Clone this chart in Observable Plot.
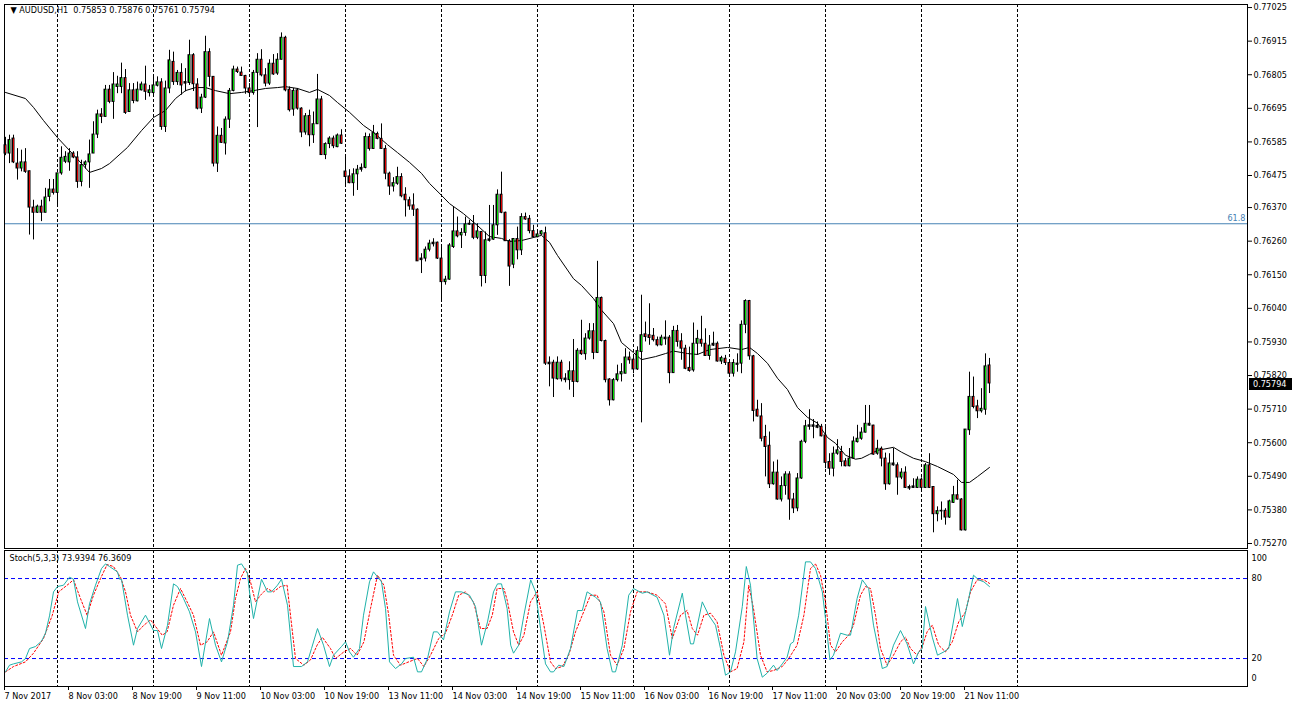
<!DOCTYPE html>
<html>
<head>
<meta charset="utf-8">
<script src="https://cdn.jsdelivr.net/npm/d3@7"></script>
<script src="https://cdn.jsdelivr.net/npm/@observablehq/plot@0.6"></script>
<style>
html,body{margin:0;padding:0;background:#fff;}
#wrap{position:relative;width:1292px;height:708px;overflow:hidden;background:#fff;}
#main{position:absolute;left:0;top:0;}
#stoch{position:absolute;left:0;top:549px;}
svg{display:block}
</style>
</head>
<body>
<div id="wrap"><div id="main"></div><div id="stoch"></div></div>
<script>
const symbol = "AUDUSD,H1";
const open = [
.76574,.76547,.76596,.76514,.76498,.76518,.76489,.76370,.76353,.76373,
.76353,.76405,.76429,.76418,.76482,.76520,.76518,.76547,.76534,.76454,
.76509,.76518,.76547,.76609,.76675,.76667,.76756,.76716,.76765,.76765,
.76794,.76683,.76754,.76718,.76754,.76773,.76745,.76745,.76769,.76780,
.76634,.76760,.76847,.76781,.76811,.76776,.76778,.76869,.76773,.76694,
.76730,.76879,.76798,.76514,.76605,.76580,.76658,.76752,.76822,.76812,
.76801,.76760,.76745,.76811,.76854,.76803,.76776,.76841,.76809,.76854,
.76926,.76756,.76691,.76754,.76694,.76616,.76670,.76607,.76643,.76724,
.76542,.76578,.76596,.76568,.76606,.76488,.76472,.76450,.76479,.76494,
.76500,.76601,.76562,.76611,.76595,.76562,.76481,.76439,.76448,.76470,
.76412,.76394,.76377,.76363,.76203,.76203,.76232,.76250,.76255,.76203,
.76126,.76134,.76241,.76292,.76279,.76287,.76314,.76315,.76271,.76290,
.76146,.76261,.76265,.76312,.76412,.76353,.76260,.76183,.76267,.76230,
.76339,.76333,.76293,.76273,.76282,.76286,.75862,.75862,.75808,.75862,
.75810,.75805,.75834,.75799,.75901,.75890,.75941,.75965,.75894,.76074,
.75933,.75807,.75739,.75805,.75824,.75826,.75879,.75872,.75840,.75897,
.75955,.75952,.75950,.75936,.75919,.75944,.75944,.75828,.75966,.75932,
.75908,.75845,.75837,.75924,.75937,.75924,.75884,.75918,.75924,.75866,
.75875,.75861,.75826,.75859,.75859,.75986,.76064,.75883,.75708,.75686,
.75619,.75590,.75464,.75502,.75414,.75458,.75496,.75414,.75385,.75483,
.75603,.75652,.75657,.75655,.75652,.75624,.75537,.75515,.75564,.75570,
.75539,.75523,.75548,.75602,.75613,.75633,.75662,.75656,.75564,.75580,
.75548,.75464,.75532,.75526,.75486,.75502,.75450,.75452,.75452,.75479,
.75452,.75526,.75455,.75366,.75377,.75377,.75355,.75403,.75428,.75414,
.75313,.75641,.75750,.75719,.75703,.75708,.75853];
const high = [
.76600,.76607,.76607,.76563,.76558,.76563,.76489,.76394,.76378,.76394,
.76433,.76462,.76462,.76482,.76569,.76553,.76563,.76553,.76553,.76525,
.76523,.76591,.76651,.76689,.76694,.76770,.76770,.76812,.76800,.76843,
.76822,.76776,.76776,.76781,.76781,.76833,.76770,.76798,.76798,.76792,
.76784,.76885,.76879,.76819,.76841,.76825,.76918,.76874,.76792,.76741,
.76931,.76890,.76798,.76634,.76629,.76667,.76760,.76833,.76830,.76830,
.76803,.76776,.76819,.76874,.76887,.76825,.76854,.76871,.76874,.76942,
.76931,.76765,.76760,.76760,.76697,.76678,.76689,.76683,.76806,.76734,
.76582,.76602,.76604,.76611,.76625,.76541,.76494,.76497,.76508,.76513,
.76614,.76611,.76639,.76617,.76644,.76573,.76486,.76468,.76502,.76481,
.76435,.76404,.76415,.76366,.76219,.76241,.76263,.76268,.76257,.76246,
.76145,.76252,.76372,.76339,.76301,.76339,.76328,.76344,.76317,.76292,
.76290,.76377,.76377,.76428,.76486,.76355,.76265,.76268,.76306,.76350,
.76352,.76344,.76312,.76295,.76295,.76306,.75881,.75870,.75881,.75870,
.75826,.75865,.75938,.75908,.76001,.75957,.75990,.75990,.76194,.76077,
.75936,.75810,.75810,.75854,.75859,.75908,.75897,.75886,.75914,.76083,
.75995,.76055,.75974,.75946,.75952,.75999,.75951,.75981,.75984,.75957,
.75919,.75913,.75992,.75968,.76014,.75973,.75951,.75962,.75930,.75883,
.75886,.75870,.75872,.75891,.75999,.76068,.76066,.75886,.75739,.75728,
.75657,.75635,.75537,.75543,.75488,.75505,.75505,.75434,.75499,.75608,
.75673,.75708,.75676,.75668,.75660,.75652,.75564,.75586,.75610,.75588,
.75548,.75581,.75619,.75657,.75649,.75722,.75722,.75657,.75608,.75586,
.75566,.75564,.75581,.75534,.75515,.75521,.75461,.75482,.75488,.75485,
.75532,.75564,.75455,.75390,.75406,.75384,.75412,.75457,.75477,.75417,
.75643,.75831,.75815,.75739,.75777,.75891,.75876];
const low = [
.76540,.76514,.76514,.76460,.76487,.76482,.76280,.76264,.76351,.76324,
.76353,.76389,.76411,.76378,.76476,.76514,.76489,.76530,.76433,.76438,
.76496,.76433,.76547,.76596,.76645,.76667,.76710,.76659,.76743,.76743,
.76675,.76683,.76710,.76716,.76752,.76721,.76732,.76738,.76765,.76623,
.76616,.76743,.76770,.76770,.76738,.76749,.76770,.76750,.76690,.76678,
.76727,.76765,.76503,.76485,.76580,.76542,.76629,.76749,.76809,.76800,
.76741,.76738,.76738,.76632,.76798,.76765,.76770,.76803,.76803,.76854,
.76749,.76683,.76669,.76689,.76599,.76607,.76569,.76580,.76643,.76542,
.76527,.76563,.76563,.76566,.76577,.76437,.76448,.76407,.76426,.76486,
.76497,.76555,.76562,.76592,.76562,.76461,.76410,.76421,.76443,.76402,
.76339,.76361,.76341,.76194,.76154,.76192,.76225,.76241,.76200,.76066,
.76116,.76132,.76236,.76271,.76236,.76276,.76312,.76265,.76265,.76110,
.76121,.76257,.76263,.76279,.76350,.76259,.76112,.76170,.76199,.76213,
.76328,.76284,.76270,.76271,.76279,.75853,.75783,.75748,.75805,.75799,
.75796,.75772,.75748,.75796,.75886,.75870,.75936,.75872,.75892,.75930,
.75796,.75720,.75737,.75799,.75799,.75826,.75857,.75826,.75837,.75665,
.75930,.75919,.75930,.75914,.75917,.75919,.75793,.75828,.75913,.75870,
.75839,.75831,.75831,.75886,.75913,.75883,.75870,.75915,.75864,.75856,
.75853,.75815,.75815,.75831,.75826,.75957,.75870,.75668,.75684,.75603,
.75488,.75450,.75461,.75412,.75406,.75428,.75346,.75368,.75374,.75480,
.75597,.75641,.75613,.75646,.75619,.75515,.75493,.75488,.75559,.75521,
.75521,.75521,.75545,.75599,.75608,.75632,.75654,.75559,.75559,.75521,
.75444,.75461,.75523,.75428,.75479,.75450,.75444,.75450,.75450,.75439,
.75450,.75450,.75305,.75341,.75346,.75330,.75352,.75401,.75412,.75311,
.75311,.75624,.75711,.75679,.75697,.75690,.75761];
const close = [
.76547,.76591,.76518,.76498,.76518,.76487,.76370,.76353,.76373,.76353,
.76403,.76429,.76418,.76482,.76533,.76536,.76547,.76534,.76454,.76509,
.76518,.76544,.76609,.76675,.76667,.76756,.76716,.76773,.76773,.76794,
.76680,.76754,.76719,.76756,.76773,.76749,.76754,.76770,.76780,.76634,
.76760,.76852,.76781,.76811,.76770,.76781,.76869,.76774,.76694,.76730,
.76879,.76798,.76514,.76605,.76582,.76658,.76752,.76822,.76814,.76801,
.76760,.76745,.76811,.76854,.76803,.76776,.76841,.76806,.76854,.76926,
.76754,.76689,.76752,.76694,.76616,.76669,.76607,.76643,.76724,.76542,
.76578,.76596,.76571,.76606,.76579,.76470,.76450,.76479,.76494,.76500,
.76601,.76562,.76614,.76595,.76562,.76481,.76439,.76450,.76470,.76407,
.76394,.76374,.76363,.76194,.76198,.76232,.76252,.76255,.76203,.76126,
.76134,.76246,.76292,.76276,.76287,.76315,.76317,.76271,.76292,.76146,
.76263,.76266,.76312,.76412,.76353,.76260,.76177,.76267,.76230,.76339,
.76331,.76293,.76273,.76282,.76292,.75859,.75857,.75810,.75862,.75808,
.75805,.75834,.75799,.75901,.75890,.75941,.75965,.75894,.76074,.75933,
.75805,.75739,.75805,.75824,.75831,.75879,.75870,.75840,.75900,.75952,
.75946,.75943,.75936,.75919,.75944,.75939,.75828,.75966,.75930,.75908,
.75842,.75835,.75924,.75940,.75924,.75884,.75918,.75924,.75866,.75877,
.75861,.75826,.75861,.75855,.75986,.76064,.75883,.75704,.75686,.75613,
.75586,.75464,.75502,.75414,.75458,.75496,.75414,.75385,.75483,.75603,
.75654,.75657,.75652,.75649,.75621,.75534,.75515,.75564,.75575,.75537,
.75523,.75548,.75604,.75613,.75633,.75662,.75656,.75561,.75580,.75548,
.75464,.75532,.75526,.75486,.75502,.75452,.75455,.75457,.75479,.75452,
.75526,.75452,.75366,.75376,.75375,.75355,.75408,.75428,.75414,.75313,
.75643,.75750,.75717,.75703,.75711,.75850,.75794];

// moving average line, bar index -> price
const maBar = [0,5,7,9.5,13,16,19,21,24,26,30.5,34,37,40,42.5,45,47.5,50,52.5,56,59,62,65,68,70,73,76,78,81,83,86,89.5,92,95.5,98,101,104,106,109,111,114.5,118,121,124,126,129,132,134,136,138,142,144,147,149,152,154,157,159,162.5,165,167,170.5,173,176,180.5,184,186,188,190.5,193,195.5,198,200.5,203,205.5,207.5,210,212.5,214,216,218,222,224,227,230,233,237,239,241,243,246];
const maVal = [.76747,.76727,.76698,.76655,.76599,.76557,.76514,.76485,.76498,.76514,.76567,.76622,.76665,.76688,.76727,.76753,.76763,.76763,.76753,.76743,.76747,.76753,.76760,.76763,.76766,.76760,.76747,.76757,.76737,.76714,.76682,.76639,.76616,.76576,.76550,.76518,.76482,.76449,.76410,.76383,.76350,.76311,.76275,.76269,.76259,.76262,.76272,.76279,.76256,.76213,.76137,.76115,.76072,.76034,.75990,.75928,.75895,.75872,.75882,.75892,.75900,.75892,.75889,.75905,.75912,.75905,.75912,.75892,.75860,.75811,.75774,.75715,.75683,.75664,.75617,.75598,.75559,.75546,.75549,.75562,.75575,.75585,.75569,.75549,.75538,.75522,.75496,.75470,.75470,.75489,.75519];

// stochastic %K (main) and %D (signal)
const kBar = [0,1,2,4,5,6,7.5,9,10,11,12,13,14.5,16,17,18,20,21,22.5,24,25,26,28,28.5,29,30.5,32,33,35,37,38,39,40.5,42,43,44.5,46,47.5,49,51,52.5,54,55.5,57,58,59,60.5,61,62,63,64,65.5,66.5,68,69,70.5,72,74,75.5,76.5,78,79.5,81,82,84,85,86,87,88.5,89.5,91,92,94,95,96,97.5,99,100,102,103,104,105.5,107,108,109.5,111,112.5,114,116,117.5,119,120.5,122,123,124,125.4,126.3,127,128.3,129.6,131.3,132.5,133.75,135,136.25,137,138.3,139.6,141.25,143,144.2,145.4,147.5,148.75,150.4,151.7,152.5,154.2,155.8,157,159.2,160.4,162.9,164.6,166,167,169.2,170,171.25,172,174.2,175.8,177.5,178.75,180,181.25,182.5,184.2,185.2,186.25,187.9,189.2,190.4,192,192.9,194.2,195.4,196.25,197,198.3,200,201.25,202.5,204.2,205,206.1,207,208.75,210.4,211.25,212.9,214.2,215.8,217,219.2,220.4,222,223.75,225.4,227,228.3,229.2,230,231.7,233,234.6,235.8,238,239.2,240.8,242,243.3,244.6,246];
const kVal = [10,15,16,17.5,20,27.5,29,33,39,52,70,74,75,81,79.5,62.5,42.5,61,75,87.5,91,89,85,79.5,79.5,52.5,30,42.5,52.5,41,41,27.5,45,76,74,65,55,40,14,50,30,17.5,32.5,60,90,91,84,70,50,65,79.5,70,70,75,79.5,60,14,14,17.5,27.5,42.5,30,14,22.5,29,32.5,25,21,27.5,52.5,77.5,85,77.5,57.5,17.5,12.5,16,20,21,10,10,20,40,40,34,55,70,70,67.5,59,30,47.5,70,76,76,57.5,30,24,30,52.5,79,70,42.5,16,10,10,15,14,27.5,56,56,70,66,62.5,27.5,10,10,30,67.5,72.5,69,70,66,52.5,22.5,42.5,69,52.5,31,31,62.5,52.5,45,27.5,7.5,10,25,59,89,75,20,6,9,15,11,16,21,31,32.5,52.5,92.5,92.5,87.5,70,50,19,22.5,39,37.5,37.5,65,79,72.5,45,12.5,14,30,41,31,16,25,27.5,59,36,22.5,25,27.5,65,44,65,82.5,79,77.5,73.9394];
const dBar = [0,2,5,7,9.5,11.7,13.3,15.4,17,18.75,20.4,22,23.75,25.4,27,28.75,30,31.25,33,34.6,36.25,37.9,39.2,40.4,42,43.75,45.4,47,48.75,50.4,52,54,56.25,57.5,58.75,60,61.25,62.5,63.75,65.4,67,68.75,70.4,71.25,72.5,74.6,76.25,77.9,79.2,81.25,82.5,84.6,86.25,87.9,89.6,91.25,93,94.6,95.8,97,98.75,100.8,103,104.6,106.25,108.3,110,111.7,113.3,115,117,118.75,120.4,121.7,122.9,124.6,125.4,127,128.3,129.6,131.25,132.9,134.6,136.25,137.5,139.2,140.8,142.5,144.2,146.25,147.9,149.6,151.25,152.9,154.6,156.25,157.9,160.4,162.9,165,166.7,168.75,170.4,171.7,173,174.6,176.25,177.9,179.6,181.25,182.9,184.6,185.8,187,188.75,190.4,192,194.2,195.8,197.9,199.6,201.25,202.5,203.75,205,206.25,207.5,209.2,210.8,212,213.75,215,216.25,217.5,218.75,220.4,222,223.75,225,226.25,227.9,229.2,230.4,231.7,233.3,235,236.7,238.3,240,241.25,242.9,244.6,246];
const dVal = [10,14,17.5,24,35,52.5,70,75,79,65,52.5,67.5,80,90.5,89,81,70,52.5,40,45,49,42.5,37.5,40,60,72.5,62.5,52.5,30,32.5,40,22.5,40,65,80,87.5,77.5,62.5,67.5,72.5,70,74,75,52.5,20,15,19,30,36,27.5,20,25,27.5,22.5,32.5,57.5,82.5,75,52.5,22.5,15,17.5,20,14,22.5,35,39,52.5,67.5,70,62.5,42.5,42.5,52.5,72.5,72.5,64,40,30,37.5,62.5,70,45,17.5,12.5,14,22.5,40,52.5,67.5,67.5,55,22.5,15,27.5,55,70,70,67.5,61,35,52.5,56,42.5,37.5,52.5,54,47.5,22.5,10,12.5,32.5,75,57.5,22.5,10,11,14,20,30,52.5,87.5,91,82.5,62.5,30,25,32.5,37.5,45,67.5,74,72.5,52.5,27.5,15,22.5,32.5,36,27.5,22.5,29,40,45,30,25,32.5,47.5,55,70,79,79,76.3609];
const stochName = "Stoch(5,3,3)";
const stochLevels = [80, 20];
const stochBounds = [100, 0];

// price axis ticks, fib level, grid days, time labels
const priceTicks = [0.77025,0.76915,0.76805,0.76695,0.76585,0.76475,0.76370,0.76260,0.76150,0.76040,0.75930,0.75820,0.75710,0.75600,0.75490,0.75380,0.75270];
const fibLevel = 0.76317;
const fibLabel = "61.8";
const dayStartBars = [13,37,61,85,109,133,157,181,205,229,253];
const timeTickBars = [0,16,32,48,64,80,96,112,128,144,160,176,192,208,224,240];
const timeLabels = ["7 Nov 2017","8 Nov 03:00","8 Nov 19:00","9 Nov 11:00","10 Nov 03:00","10 Nov 19:00","13 Nov 11:00","14 Nov 03:00","14 Nov 19:00","15 Nov 11:00","16 Nov 03:00","16 Nov 19:00","17 Nov 11:00","20 Nov 03:00","20 Nov 19:00","21 Nov 11:00"];

const FONT = '"DejaVu Sans Condensed","Liberation Sans",Arial,sans-serif';
const BULL = "#00dd00", BEAR = "#dd0000";
const xDomain = [-0.25, 310.5];

const bars = open.map((o, i) => ({i, o, h: high[i], l: low[i], c: close[i]}));
const bodyTop = d => Math.max(d.o, d.c), bodyBot = d => Math.min(d.o, d.c);
const bigBody = d => Math.abs(d.o - d.c) > 0.00007;
const ma = maBar.map((b, k) => ({b, v: maVal[k]}));
const kLine = kBar.map((b, k) => ({b, v: kVal[k]}));
const dLine = dBar.map((b, k) => ({b, v: dVal[k]}));
const n = open.length - 1;
const f5 = d3.format(".5f");
const titleText = "\u25BC " + symbol + "  " + [open[n], high[n], low[n], close[n]].map(f5).join(" ");
const stochTitle = stochName + " " + kVal[kVal.length - 1].toFixed(4) + " " + dVal[dVal.length - 1].toFixed(4);

const style = {fontFamily: FONT, fontSize: "9px", background: "white", color: "black", overflow: "visible"};

const mainPlot = Plot.plot({
  width: 1292, height: 549,
  marginLeft: 4, marginRight: 45, marginTop: 4, marginBottom: 1,
  x: {domain: xDomain, axis: null, label: null},
  y: {domain: [0.752536, 0.77035], axis: null, label: null},
  style,
  marks: [
    Plot.ruleX(dayStartBars, {stroke: "black", strokeDasharray: "3,2"}),
    Plot.ruleY([fibLevel], {stroke: "#4682B4"}),
    Plot.text([fibLevel], {y: d => d, text: () => fibLabel, frameAnchor: "right", dx: -2, dy: -6, textAnchor: "end", fill: "#4682B4"}),
    Plot.line(ma, {x: "b", y: "v", stroke: "black", strokeWidth: 1}),
    Plot.ruleX(bars, {x: "i", y1: "l", y2: "h", stroke: "black"}),
    Plot.rect(bars, {x1: d => d.i - 0.375, x2: d => d.i + 0.375, y1: bodyBot, y2: bodyTop, fill: "black", insetTop: -0.5, insetBottom: -0.5}),
    Plot.ruleX(bars.filter(d => d.c >= d.o && bigBody(d)), {x: "i", y1: bodyTop, y2: bodyBot, stroke: BULL, insetTop: 0.5, insetBottom: 0.5}),
    Plot.ruleX(bars.filter(d => d.c < d.o && bigBody(d)), {x: "i", y1: bodyTop, y2: bodyBot, stroke: BEAR, insetTop: 0.5, insetBottom: 0.5}),
    Plot.axisY(priceTicks, {anchor: "right", tickSize: 4, tickPadding: 2, tickFormat: f5, label: null}),
    Plot.frame({stroke: "black"}),
    Plot.text([titleText], {frameAnchor: "top-left", dx: 6, dy: 2, textAnchor: "start", lineAnchor: "top", fill: "black"})
  ]
});
document.getElementById("main").appendChild(mainPlot);

// current price marker on the price axis (positioned through the plot's y scale)
{
  const yS = mainPlot.scale("y");
  const yy = Math.round(yS.apply(close[n]));
  const svg = d3.select(mainPlot);
  svg.append("rect").attr("x", 1249).attr("y", yy - 5).attr("width", 43).attr("height", 12).attr("fill", "black");
  svg.append("text").attr("x", 1253).attr("y", yy + 1).attr("dy", "0.32em")
    .attr("text-anchor", "start")
    .attr("fill", "white").attr("font-family", FONT).attr("font-size", 9).text(f5(close[n]));
}

const stochPlot = Plot.plot({
  width: 1292, height: 159,
  marginLeft: 4, marginRight: 45, marginTop: 1, marginBottom: 22,
  x: {domain: xDomain, label: null, axis: null},
  y: {domain: [-0.975, 101.03], axis: null, label: null},
  style,
  marks: [
    Plot.ruleX(dayStartBars, {stroke: "black", strokeDasharray: "3,2"}),
    Plot.ruleY(stochLevels, {stroke: "blue", strokeDasharray: "4,3"}),
    Plot.line(dLine, {x: "b", y: "v", stroke: "red", strokeDasharray: "2,2", strokeWidth: 1}),
    Plot.line(kLine, {x: "b", y: "v", stroke: "#20b2aa", strokeWidth: 1}),
    Plot.frame({stroke: "black"}),
    Plot.axisX(timeTickBars, {anchor: "bottom", tickSize: 4, tickPadding: 2, textAnchor: "start", dx: -1, tickFormat: d => timeLabels[timeTickBars.indexOf(d)], label: null}),
    Plot.text(stochLevels, {y: d => d, text: d => String(d), frameAnchor: "right", dx: 4, textAnchor: "start"}),
    Plot.text([stochBounds[0]], {y: d => d, text: d => String(d), frameAnchor: "right", dx: 4, dy: 6, textAnchor: "start"}),
    Plot.text([stochBounds[1]], {y: d => d, text: d => String(d), frameAnchor: "right", dx: 4, dy: -7, textAnchor: "start"}),
    Plot.text([stochTitle], {frameAnchor: "top-left", dx: 5, dy: 4, textAnchor: "start", lineAnchor: "top"})
  ]
});
document.getElementById("stoch").appendChild(stochPlot);
</script>
</body>
</html>
